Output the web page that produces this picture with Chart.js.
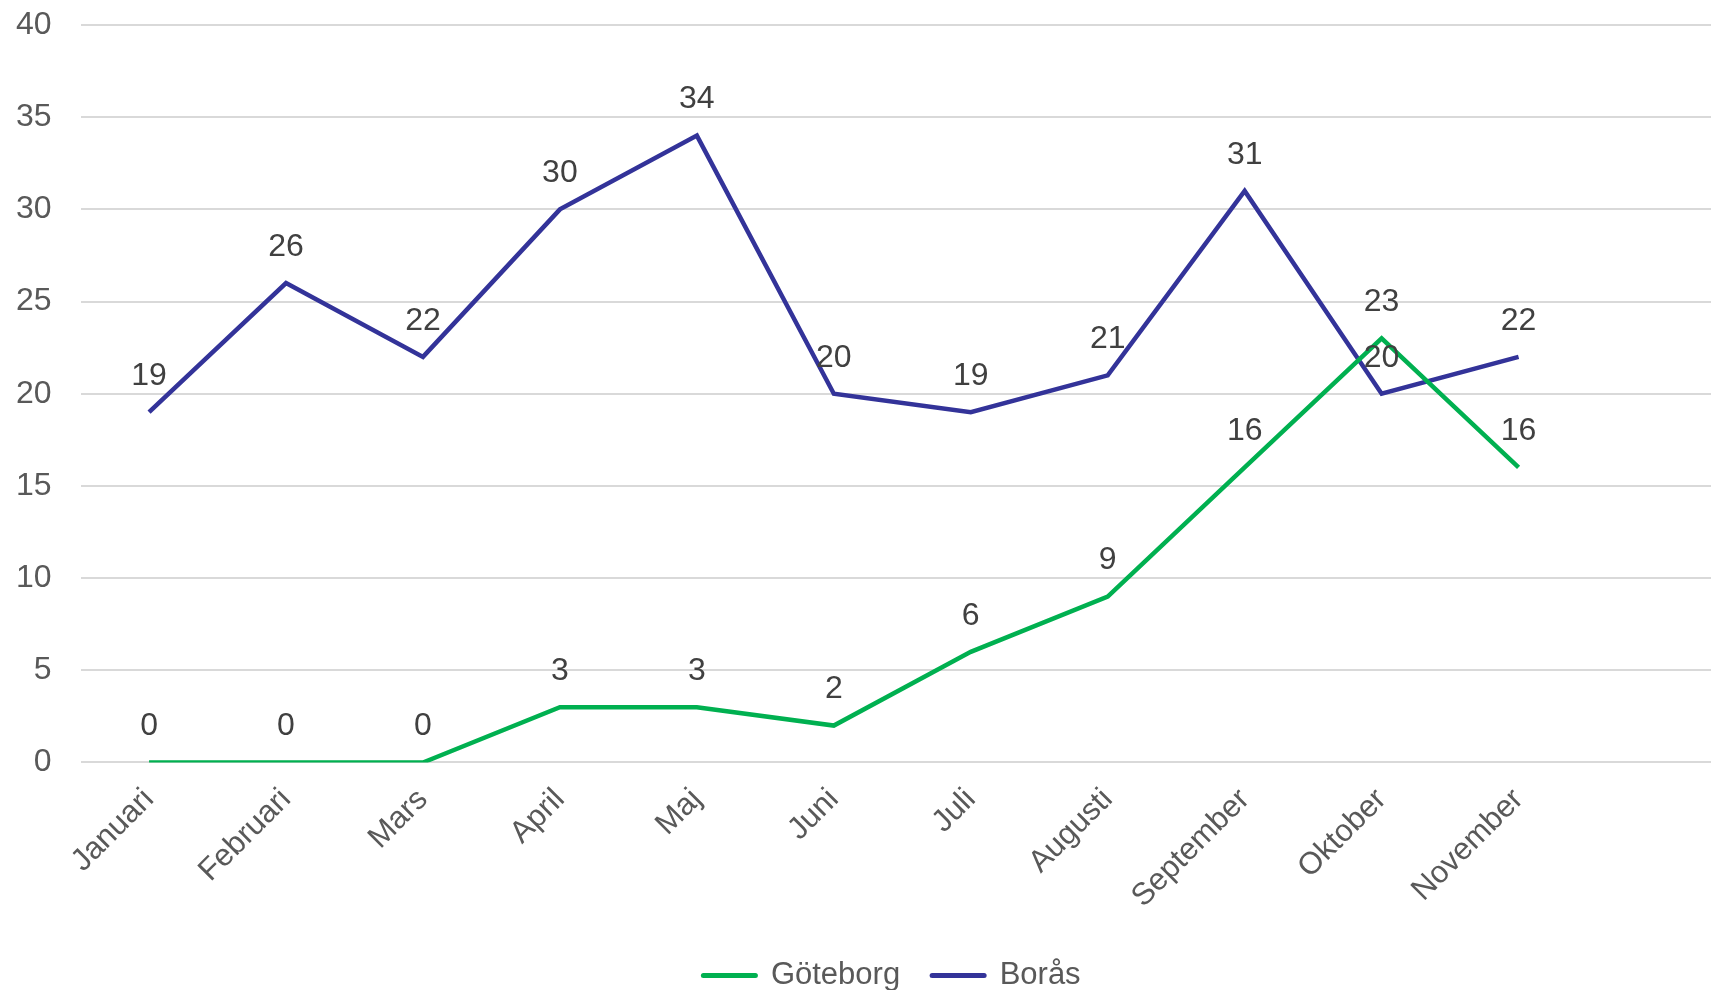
<!DOCTYPE html>
<html>
<head>
<meta charset="utf-8">
<script src="https://cdn.jsdelivr.net/npm/chart.js@4"></script>
<style>
  html, body { margin: 0; background: #fff; overflow: hidden; }
  #wrap { width: 1711px; height: 990px; overflow: hidden; }
</style>
</head>
<body>
<div id="wrap"><canvas id="myChart" width="1724" height="990"></canvas></div>
<script>
// months (the 12th slot is left empty, like in the source sheet)
var months = ['Januari', 'Februari', 'Mars', 'April', 'Maj', 'Juni', 'Juli', 'Augusti', 'September', 'Oktober', 'November', ''];
var goteborg = [0, 0, 0, 3, 3, 2, 6, 9, 16, 23, 16];
var boras = [19, 26, 22, 30, 34, 20, 19, 21, 31, 20, 22];
var yTicks = [0, 5, 10, 15, 20, 25, 30, 35, 40];

var font = 'Liberation Sans, Arial, sans-serif';

// simple value labels above each point
var valueLabels = {
    id: 'valueLabels',
    afterDatasetsDraw: function(chart) {
        var ctx = chart.ctx;
        ctx.save();
        ctx.font = '32px ' + font;
        ctx.fillStyle = '#404040';
        ctx.textAlign = 'center';
        ctx.textBaseline = 'middle';
        chart.data.datasets.forEach(function(ds, i) {
            var meta = chart.getDatasetMeta(i);
            meta.data.forEach(function(pt, j) {
                if (ds.data[j] == null) return;
                ctx.fillText(ds.data[j], pt.x, pt.y - 36);
            });
        });
        ctx.restore();
    }
};

// the legend in the source sits a bit right of centre
var legendShift = {
    id: 'legendShift',
    beforeDraw: function(chart) {
        chart.legend.left += 22;
        chart.legend.right += 22;
    }
};

var ctx = document.getElementById('myChart').getContext('2d');
var chart = new Chart(ctx, {
    type: 'line',
    data: {
        labels: months,
        datasets: [{
            label: 'Göteborg',
            data: goteborg,
            borderColor: '#00B050',
            backgroundColor: '#00B050',
            borderWidth: 4.5,
            pointRadius: 0,
            tension: 0
        }, {
            label: 'Borås',
            data: boras,
            borderColor: '#333399',
            backgroundColor: '#333399',
            borderWidth: 4.5,
            pointRadius: 0,
            tension: 0
        }]
    },
    options: {
        responsive: false,
        animation: false,
        devicePixelRatio: 1,
        layout: { padding: { left: 16, right: 0, top: 25, bottom: -11 } },
        plugins: {
            tooltip: { enabled: false },
            legend: {
                position: 'bottom',
                labels: {
                    usePointStyle: true,
                    pointStyle: 'line',
                    pointStyleWidth: 52,
                    padding: 32,
                    color: '#595959',
                    font: { family: font, size: 31 },
                    generateLabels: function(chart) {
                        var items = Chart.defaults.plugins.legend.labels.generateLabels(chart);
                        items.forEach(function(it) { it.lineCap = 'round'; it.lineWidth = 5; });
                        return items;
                    }
                }
            }
        },
        scales: {
            x: {
                offset: true,
                grid: { display: false },
                border: { display: false },
                ticks: {
                    color: '#595959',
                    font: { family: font, size: 31 },
                    maxRotation: 45,
                    minRotation: 45,
                    padding: 11,
                    autoSkip: false
                },
                afterFit: function(scale) { scale.height += 2; }
            },
            y: {
                min: 0,
                max: 40,
                afterBuildTicks: function(axis) {
                    axis.ticks = yTicks.map(function(v) { return { value: v }; });
                },
                // transparent tick marks give the gap between labels and grid
                grid: { color: '#d9d9d9', lineWidth: 2, drawTicks: true, tickLength: 29, tickColor: 'rgba(0,0,0,0)' },
                border: { display: false },
                ticks: {
                    color: '#595959',
                    font: { family: font, size: 32 },
                    padding: 0
                }
            }
        }
    },
    plugins: [valueLabels, legendShift]
});
</script>
</body>
</html>
